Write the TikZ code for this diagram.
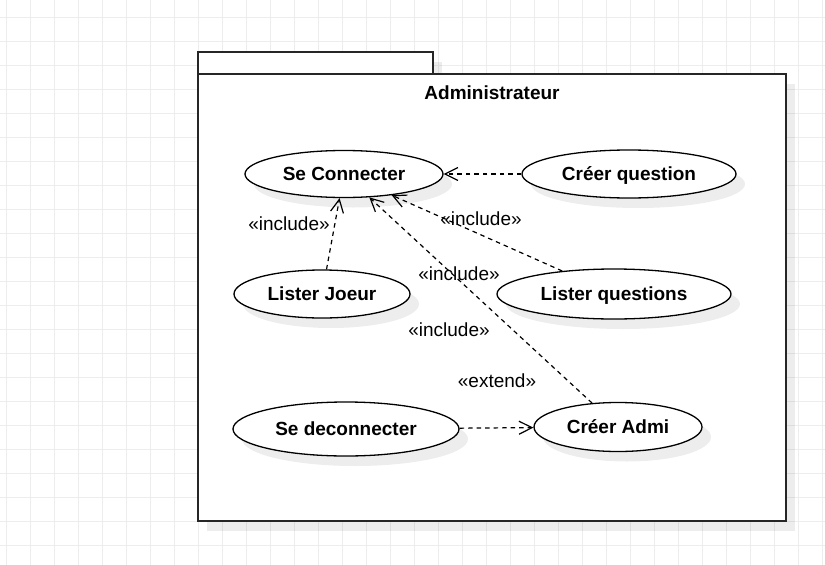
\documentclass[tikz,border=0pt]{standalone}
\usepackage{fontspec}
\setmainfont{Liberation Sans}
\usetikzlibrary{shapes,arrows.meta,positioning,shadows}

\begin{document}
\begin{tikzpicture}[x=1pt, y=-1pt,
    usecase/.style={ellipse, draw, line width=1.3pt, fill=white, inner sep=0pt, text height=17.6pt, text depth=4pt, font=\fontsize{19}{23}\selectfont\bfseries, drop shadow={shadow xshift=9pt, shadow yshift=-10pt, fill=black, opacity=0.07}},
    tag/.style={font=\fontsize{19}{23}\selectfont},
    line/.style={draw, dash pattern=on 4.5pt off 4pt, line width=1.2pt, -{Straight Barb[length=13pt,width=13pt]}},
    gridline/.style={draw, black!7, line width=1pt},
    pkg/.style={draw=black!85, line width=2pt, fill=white},
    pkgshadow/.style={fill=black, opacity=0.07}]

    \useasboundingbox (0,0) rectangle (825,565);

    % Grid
    \foreach \gx in {6,30,...,822} \path [gridline] (\gx,0) -- (\gx,565);
    \foreach \gy in {17,41,...,561} \path [gridline] (0,\gy) -- (825,\gy);

    % Package
    \path [pkgshadow] (207,62) rectangle (442,84);
    \path [pkgshadow] (207,84) rectangle (795,531);
    \path [pkg] (198,52) rectangle (433,74);
    \path [pkg] (198,74) rectangle (786,521);
    \node [font=\fontsize{19}{23}\selectfont\bfseries] (title) at (492,93) {Administrateur};

    % Nodes
    \node [usecase, minimum width=198pt, minimum height=47pt] (connect) at (344,174) {Se Connecter};
    \node [usecase, minimum width=214pt, minimum height=48pt] (creerq) at (629,174) {Créer question};
    \node [usecase, minimum width=176pt, minimum height=48pt] (listerj) at (322,294) {Lister Joeur};
    \node [usecase, minimum width=234pt, minimum height=50pt] (listerq) at (614,294) {Lister questions};
    \node [usecase, minimum width=226pt, minimum height=54pt] (deconnect) at (346,429) {Se deconnecter};
    \node [usecase, minimum width=168pt, minimum height=49pt] (creera) at (618,427) {Créer Admi};

    % Labels
    \node [tag] (inc1) at (289,224) {«include»};
    \node [tag] (inc2) at (481,219) {«include»};
    \node [tag] (inc3) at (459,274) {«include»};
    \node [tag] (inc4) at (449,330) {«include»};
    \node [tag] (ext) at (497,381) {«extend»};

    % Paths
    \path [line] (creerq) -- (connect);
    \path [line] (listerj) -- (connect);
    \path [line] (listerq) -- (connect);
    \path [line] (creera) -- (connect);
    \path [line] (deconnect) -- (creera);

\end{tikzpicture}
\end{document}
